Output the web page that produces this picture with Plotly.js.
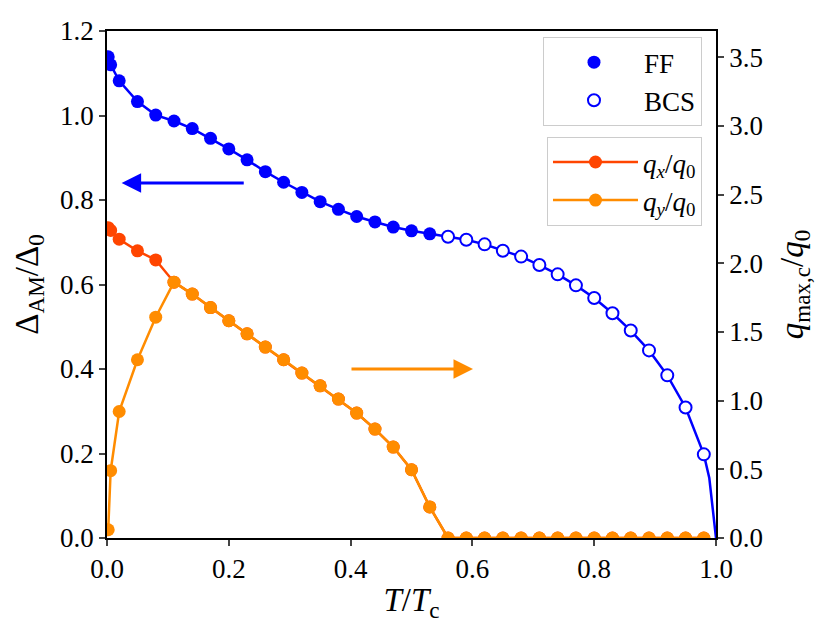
<!DOCTYPE html>
<html>
<head>
<meta charset="utf-8">
<script src="https://cdn.plot.ly/plotly-3.0.1.min.js"></script>
<style>
html,body{margin:0;padding:0;background:#fff;}
#chart{width:830px;height:623px;}
</style>
</head>
<body>
<div id="chart"></div>
<script>
// Temperatures T/Tc
const T_FF = [0.002, 0.006, 0.02, 0.05, 0.08, 0.11, 0.14, 0.17, 0.20, 0.23, 0.26, 0.29, 0.32, 0.35, 0.38, 0.41, 0.44, 0.47, 0.50, 0.53];
const T_BCS = [0.56, 0.59, 0.62, 0.65, 0.68, 0.71, 0.74, 0.77, 0.80, 0.83, 0.86, 0.89, 0.92, 0.95, 0.98];
const T_BCS_tail = [0.989, 1.0];

// Gap Delta_AM / Delta_0
const delta_FF = [1.139, 1.120, 1.082, 1.033, 1.001, 0.987, 0.969, 0.946, 0.921, 0.895, 0.867, 0.842, 0.818, 0.796, 0.778, 0.761, 0.748, 0.736, 0.727, 0.720];
const delta_BCS = [0.713, 0.706, 0.695, 0.680, 0.666, 0.646, 0.624, 0.598, 0.568, 0.532, 0.491, 0.444, 0.385, 0.309, 0.198];
const delta_BCS_tail = [0.142, 0.0];

// Momenta q / q0 (right axis), on T_FF followed by T_BCS
const qx = [2.26, 2.24, 2.176, 2.091, 2.025, 1.863, 1.776, 1.678, 1.582, 1.487, 1.390, 1.298, 1.201, 1.108, 1.012, 0.910, 0.793, 0.662, 0.497, 0.226,
            0, 0, 0, 0, 0, 0, 0, 0, 0, 0, 0, 0, 0, 0, 0];
const qy = [0.06, 0.49, 0.921, 1.298, 1.608, 1.863, 1.776, 1.678, 1.582, 1.487, 1.390, 1.298, 1.201, 1.108, 1.012, 0.910, 0.793, 0.662, 0.497, 0.226,
            0, 0, 0, 0, 0, 0, 0, 0, 0, 0, 0, 0, 0, 0, 0];

const xTicks = [0, 0.2, 0.4, 0.6, 0.8, 1.0];
const yTicks = [0, 0.2, 0.4, 0.6, 0.8, 1.0, 1.2];
const y2Ticks = [0, 0.5, 1.0, 1.5, 2.0, 2.5, 3.0, 3.5];

const BLUE = '#0000ff', RED = '#ff4500', ORANGE = '#ff8c00';
const SERIF = 'Times New Roman';

const T_q = T_FF.concat(T_BCS);

const traces = [
  {x: T_FF.concat(T_BCS, T_BCS_tail), y: delta_FF.concat(delta_BCS, delta_BCS_tail),
   mode: 'lines', line: {color: BLUE, width: 2.5}, showlegend: false, hoverinfo: 'skip'},
  {x: T_FF, y: delta_FF, mode: 'markers', name: 'FF', legend: 'legend',
   marker: {color: BLUE, size: 13}},
  {x: T_BCS, y: delta_BCS, mode: 'markers', name: 'BCS', legend: 'legend',
   marker: {color: '#ffffff', size: 12, line: {color: BLUE, width: 2}}},
  {x: T_q, y: qx, yaxis: 'y2', mode: 'lines+markers', name: '<i>q</i><sub><i>x</i></sub>/<i>q</i><sub>0</sub>', legend: 'legend2',
   line: {color: RED, width: 2.5}, marker: {color: RED, size: 13}},
  {x: T_q, y: qy, yaxis: 'y2', mode: 'lines+markers', name: '<i>q</i><sub><i>y</i></sub>/<i>q</i><sub>0</sub>', legend: 'legend2',
   line: {color: ORANGE, width: 2.5}, marker: {color: ORANGE, size: 13}}
];

const layout = {
  width: 830, height: 623,
  margin: {l: 107, r: 114, t: 31, b: 85},
  font: {family: SERIF},
  xaxis: {range: [0, 1], tickvals: xTicks, tickformat: '.1f', ticks: 'outside', ticklen: 6, tickwidth: 1.5,
          tickfont: {family: SERIF, size: 27, color: '#000000'},
          showline: true, mirror: true, linecolor: '#000000', linewidth: 1.5, showgrid: false, zeroline: false,
          title: {text: '<i>T</i>/<i>T</i><sub>c</sub>', font: {family: SERIF, size: 33, color: '#000000'}, standoff: 6}},
  yaxis: {range: [0, 1.2], tickvals: yTicks, tickformat: '.1f', ticks: 'outside', ticklen: 6, tickwidth: 1.5,
          tickfont: {family: SERIF, size: 27, color: '#000000'},
          showline: true, linecolor: '#000000', linewidth: 1.5, showgrid: false, zeroline: false,
          title: {text: '\u0394<sub>AM</sub>/\u0394<sub>0</sub>', font: {family: SERIF, size: 33, color: '#000000'}, standoff: 12}},
  yaxis2: {range: [0, 3.692], tickvals: y2Ticks, tickformat: '.1f', ticks: 'outside', ticklen: 6, tickwidth: 1.5,
           tickfont: {family: SERIF, size: 27, color: '#000000'},
           overlaying: 'y', side: 'right', showline: true, linecolor: '#000000', linewidth: 1.5, showgrid: false, zeroline: false,
           title: {text: '<i>q</i><sub>max,c</sub>/<i>q</i><sub>0</sub>', font: {family: SERIF, size: 33, color: '#000000'}, standoff: 18}},
  legend: {x: 0.977, y: 0.988, xanchor: 'right', yanchor: 'top', itemwidth: 90,
           font: {family: SERIF, size: 27, color: '#000000'},
           bgcolor: 'rgba(255,255,255,0.8)', bordercolor: '#cccccc', borderwidth: 1},
  legend2: {x: 0.977, y: 0.791, xanchor: 'right', yanchor: 'top', itemwidth: 85,
            font: {family: SERIF, size: 27, color: '#000000'},
            bgcolor: 'rgba(255,255,255,0.8)', bordercolor: '#cccccc', borderwidth: 1},
  showlegend: true,
  annotations: [
    {x: 0.024, y: 0.84, ax: 0.227, ay: 0.84, xref: 'x', yref: 'y', axref: 'x', ayref: 'y',
     text: '', showarrow: true, arrowhead: 2, arrowsize: 1.3, arrowwidth: 3, arrowcolor: BLUE},
    {x: 0.601, y: 0.40, ax: 0.399, ay: 0.40, xref: 'x', yref: 'y', axref: 'x', ayref: 'y',
     text: '', showarrow: true, arrowhead: 2, arrowsize: 1.3, arrowwidth: 3, arrowcolor: ORANGE}
  ]
};

Plotly.newPlot('chart', traces, layout, {displayModeBar: false});
</script>
</body>
</html>
